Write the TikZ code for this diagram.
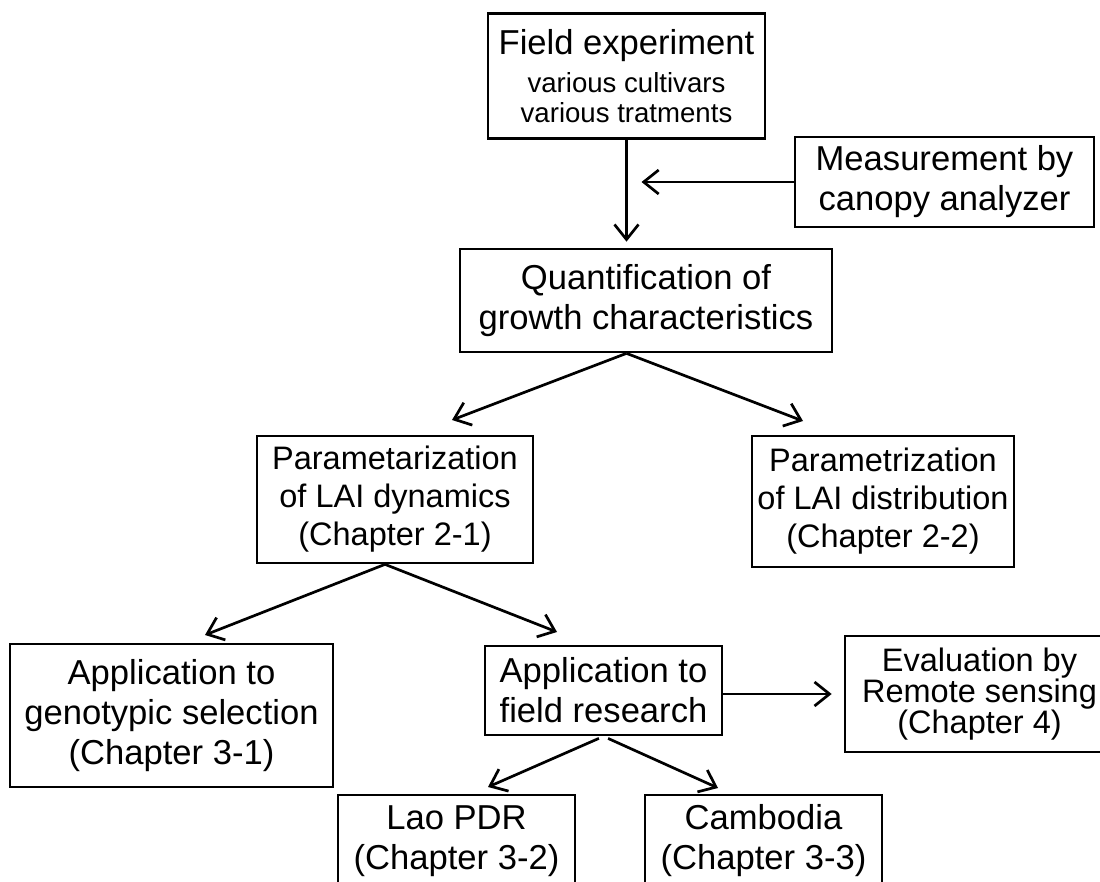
\documentclass[tikz,border=0pt]{standalone}
\usepackage{fontspec}
\setmainfont{Liberation Sans}
\usetikzlibrary{arrows.meta}

\newcommand\bigfnt{\fontsize{34.6}{40}\selectfont}
\newcommand\midfnt{\fontsize{32.5}{38}\selectfont}
\newcommand\evalfnt{\fontsize{32.5}{31}\selectfont}
\newcommand\smallfnt{\fontsize{27.6}{30}\selectfont}

\tikzset{
  box/.style={draw, line width=2.7pt, align=center, inner sep=0pt, font=\bigfnt},
  arr/.style={line width=2.7pt, -{Straight Barb[length=15pt,width=24pt]}},
}

\begin{document}
\begin{tikzpicture}[x=1pt, y=-1pt]

  \useasboundingbox (0,0) rectangle (1100,882);
  \clip (0,0) rectangle (1100,882);

  % boxes
  \node[box, minimum width=277pt, minimum height=125pt] (field) at (626.5,76)
    {Field experiment\\[-2pt]\smallfnt various cultivars\\[-10pt]\smallfnt various tratments};
  \node[box, minimum width=299pt, minimum height=90pt] (measure) at (944.5,182)
    {Measurement by\\canopy analyzer};
  \node[box, minimum width=372pt, minimum height=103pt] (quant) at (646,300.5)
    {Quantification of\\growth characteristics};
  \node[box, font=\midfnt, minimum width=276pt, minimum height=127pt] (pdyn) at (395,499.5)
    {Parametarization\\of LAI dynamics\\(Chapter 2-1)};
  \node[box, font=\midfnt, minimum width=262pt, minimum height=131pt] (pdist) at (883,501.5)
    {Parametrization\\of LAI distribution\\(Chapter 2-2)};
  \node[box, minimum width=323pt, minimum height=143pt] (appgeno) at (171.5,715.5)
    {Application to\\genotypic selection\\(Chapter 3-1)};
  \node[box, minimum width=237pt, minimum height=89pt] (appfield) at (603.5,690.5)
    {Application to\\field research};
  \node[box, font=\evalfnt, minimum width=269pt, minimum height=116pt] (eval) at (979.5,694)
    {Evaluation by\\Remote sensing\\(Chapter 4)};
  \node[box, minimum width=237pt, minimum height=92pt] (lao) at (456.5,841)
    {Lao PDR\\(Chapter 3-2)};
  \node[box, minimum width=237pt, minimum height=92pt] (cambodia) at (763.5,841)
    {Cambodia\\(Chapter 3-3)};

  % arrow tips
  \coordinate (tdyn) at (452,420);
  \coordinate (tdist) at (803,421);
  \coordinate (tgeno) at (205,635);
  \coordinate (tfield) at (557,632);
  \coordinate (tlao) at (488,787);
  \coordinate (tcam) at (718,788);

  % arrows
  \draw[arr, shorten >=6pt] (field.south) -- (field.south |- quant.north);
  \draw[arr, shorten >=15pt] (measure.west) -- (measure.west -| field.south);
  \draw[arr] (field.south |- quant.south) -- (tdyn);
  \draw[arr] (field.south |- quant.south) -- (tdist);
  \draw[arr] ([xshift=-10pt]pdyn.south) -- (tgeno);
  \draw[arr] ([xshift=-10pt]pdyn.south) -- (tfield);
  \draw[arr, shorten >=12pt] (appfield.east |- eval.west) -- (eval.west);
  \draw[arr, shorten <=5pt] (appfield.south) -- (tlao);
  \draw[arr, shorten <=5pt] (appfield.south) -- (tcam);

\end{tikzpicture}
\end{document}
